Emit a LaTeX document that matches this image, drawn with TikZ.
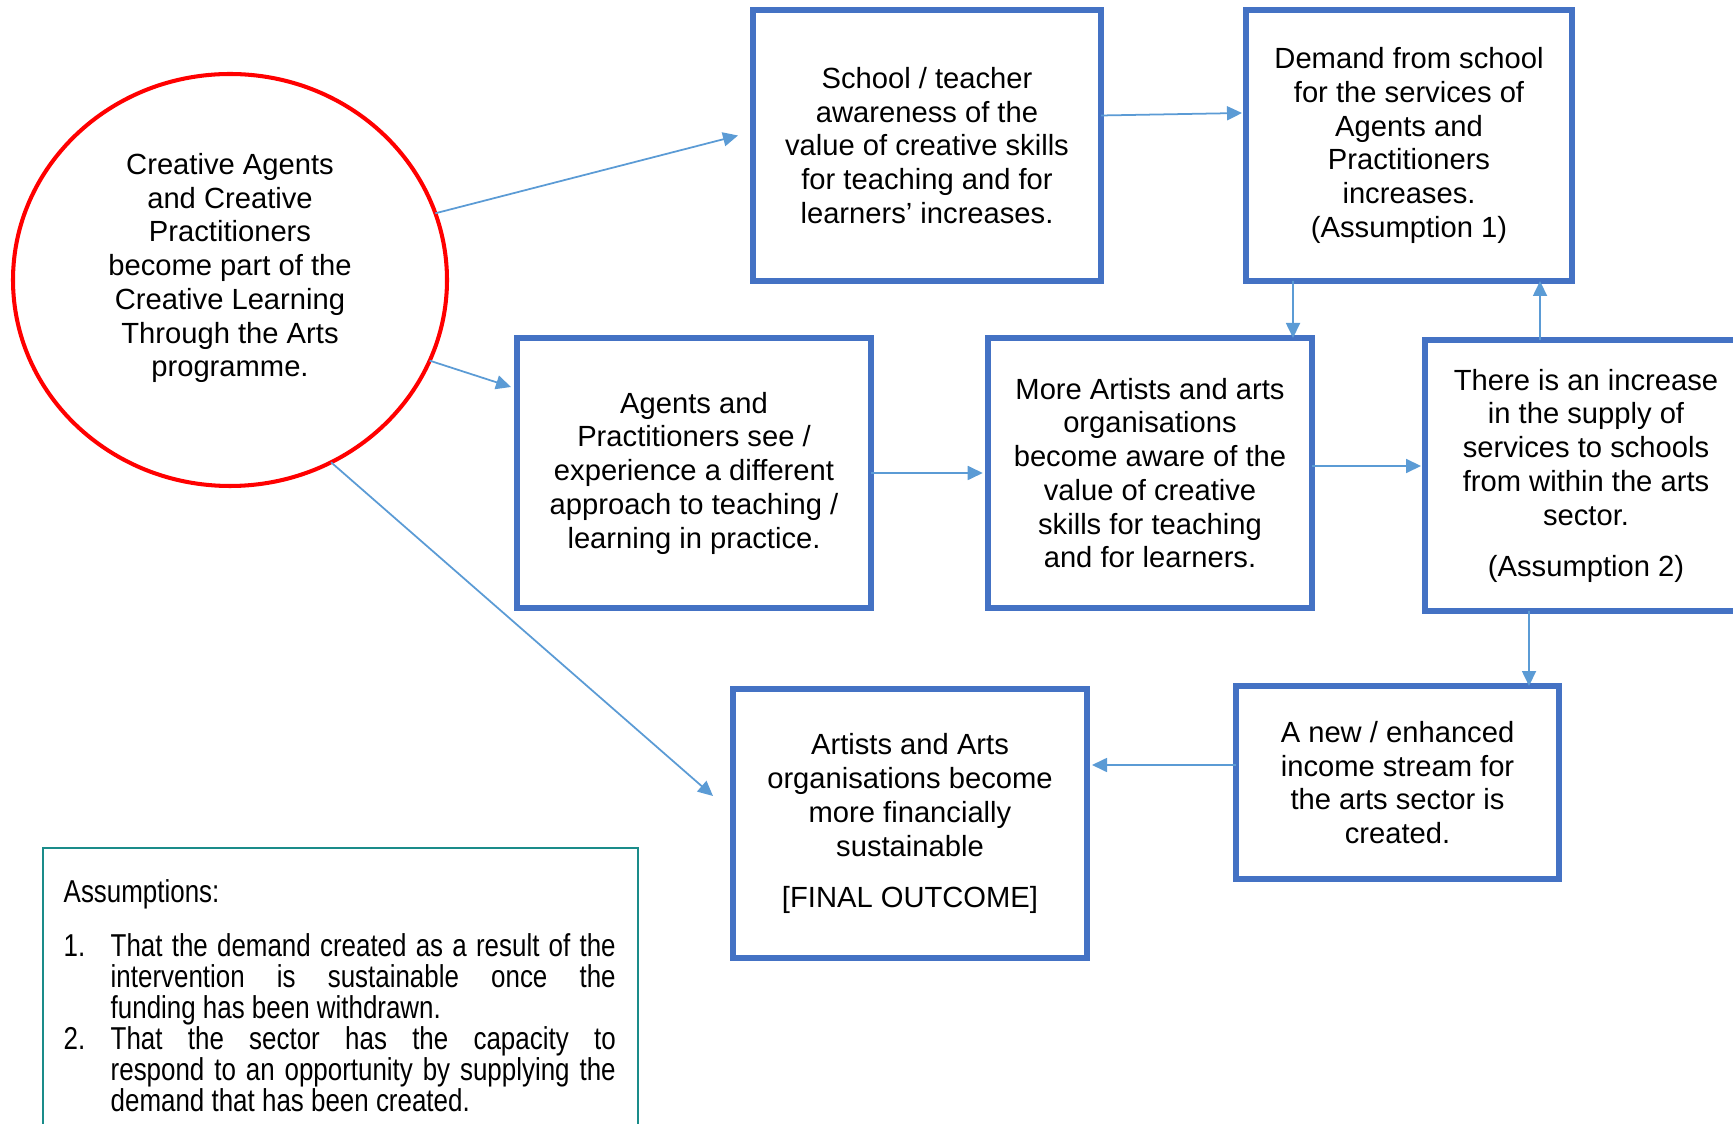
\documentclass[tikz,border=0pt]{standalone}
\usepackage{fontspec}
\setmainfont{Liberation Sans}
\newfontfamily\narrowsans[FakeStretch=0.82]{Liberation Sans}
\usetikzlibrary{shapes.geometric,arrows.meta,calc}
\definecolor{boxblue}{RGB}{68,114,196}
\definecolor{arrowblue}{RGB}{91,155,213}
\definecolor{noteteal}{RGB}{26,140,138}

\begin{document}
\begin{tikzpicture}[
    outcome/.style={draw=boxblue, line width=1.6pt, align=center, inner sep=0pt, outer sep=0pt, font=\fontsize{8.3}{9.6}\selectfont},
    txt/.style={align=center, inner sep=0pt, font=\fontsize{8.3}{9.6}\selectfont},
    flow/.style={draw=arrowblue, line width=0.5pt, -{Triangle[length=1.5mm,width=1.4mm]}}]
    \clip (0,0) rectangle (17.33,-11.24);
    % programme circle
    \node[ellipse, draw=red, line width=1.15pt, minimum width=4.34cm, minimum height=4.12cm, inner sep=0pt, outer sep=0pt] (prog) at (2.30,-2.80) {};
    \node[txt] (progtext) at (2.30,-2.68) {Creative Agents\\ and Creative\\ Practitioners\\ become part of the\\ Creative Learning\\ Through the Arts\\ programme.};
    % outcome boxes
    \node[outcome, minimum width=3.48cm, minimum height=2.71cm] (aware) at (9.27,-1.455) {School / teacher\\ awareness of the\\ value of creative skills\\ for teaching and for\\ learners’ increases.};
    \node[outcome, minimum width=3.26cm, minimum height=2.71cm] (demand) at (14.09,-1.455) {Demand from school\\ for the services of\\ Agents and\\ Practitioners\\ increases.\\ (Assumption 1)};
    \node[outcome, minimum width=3.54cm, minimum height=2.70cm] (see) at (6.94,-4.73) {Agents and\\ Practitioners see /\\ experience a different\\ approach to teaching /\\ learning in practice.};
    \node[outcome, minimum width=3.24cm, minimum height=2.70cm] (artists) at (11.50,-4.73) {More Artists and arts\\ organisations\\ become aware of the\\ value of creative\\ skills for teaching\\ and for learners.};
    \node[outcome, minimum width=3.22cm, minimum height=2.71cm] (supply) at (15.86,-4.755) {There is an increase\\ in the supply of\\ services to schools\\ from within the arts\\ sector.\\[4.9pt] (Assumption 2)};
    \node[outcome, minimum width=3.54cm, minimum height=2.69cm] (final) at (9.10,-8.235) {Artists and Arts\\ organisations become\\ more financially\\ sustainable\\[4.9pt] [FINAL OUTCOME]};
    \node[outcome, minimum width=3.23cm, minimum height=1.93cm] (income) at (13.975,-7.825) {A new / enhanced\\ income stream for\\ the arts sector is\\ created.};
    % assumptions
    \node[draw=noteteal, line width=0.6pt, anchor=north west, minimum width=5.95cm, minimum height=3.2cm, inner sep=0pt] (notes) at (0.42,-8.47) {};
    \node[anchor=north west, text width=5.52cm, inner sep=0pt, align=justify, font=\narrowsans\fontsize{9.0}{8.8}\selectfont] (notetext) at (0.63,-8.79) {Assumptions:\par\vspace{6.6pt}
    \noindent\hangindent=4.7mm\hangafter=1\makebox[4.7mm][l]{1.}That the demand created as a result of the\linebreak intervention is sustainable once the\linebreak funding has been withdrawn.\par
    \noindent\hangindent=4.7mm\hangafter=1\makebox[4.7mm][l]{2.}That the sector has the capacity to\linebreak respond to an opportunity by supplying the\linebreak demand that has been created.\par};
    % connectors
    \draw[flow] (prog.18) -- ($(aware.west)+(-0.15,0.10)$);
    \draw[flow] (prog.-22) -- ($(see.north west)+(-0.06,-0.49)$);
    \draw[flow] (prog.-61) -- ($(final.north west)+(-0.20,-1.07)$);
    \draw[flow] ($(aware.east)+(0,0.30)$) -- ($(demand.west)+(-0.04,0.325)$);
    \draw[flow] ($(demand.south west)+(0.47,0)$) -- ($(artists.north east)+(-0.19,0)$);
    \draw[flow] ($(supply.north west)+(1.15,0)$) -- ($(demand.south east)+(-0.32,0)$);
    \draw[flow, shorten >=1.5pt] (see) -- (artists);
    \draw[flow] ($(artists.east)+(0,0.07)$) -- ($(supply.west)+(-0.04,0.095)$);
    \draw[flow] ($(supply.south west)+(1.04,0)$) -- ($(income.north east)+(-0.30,0)$);
    \draw[flow] ($(income.west)+(0,0.175)$) -- ($(final.east)+(0.05,0.585)$);
\end{tikzpicture}
\end{document}
